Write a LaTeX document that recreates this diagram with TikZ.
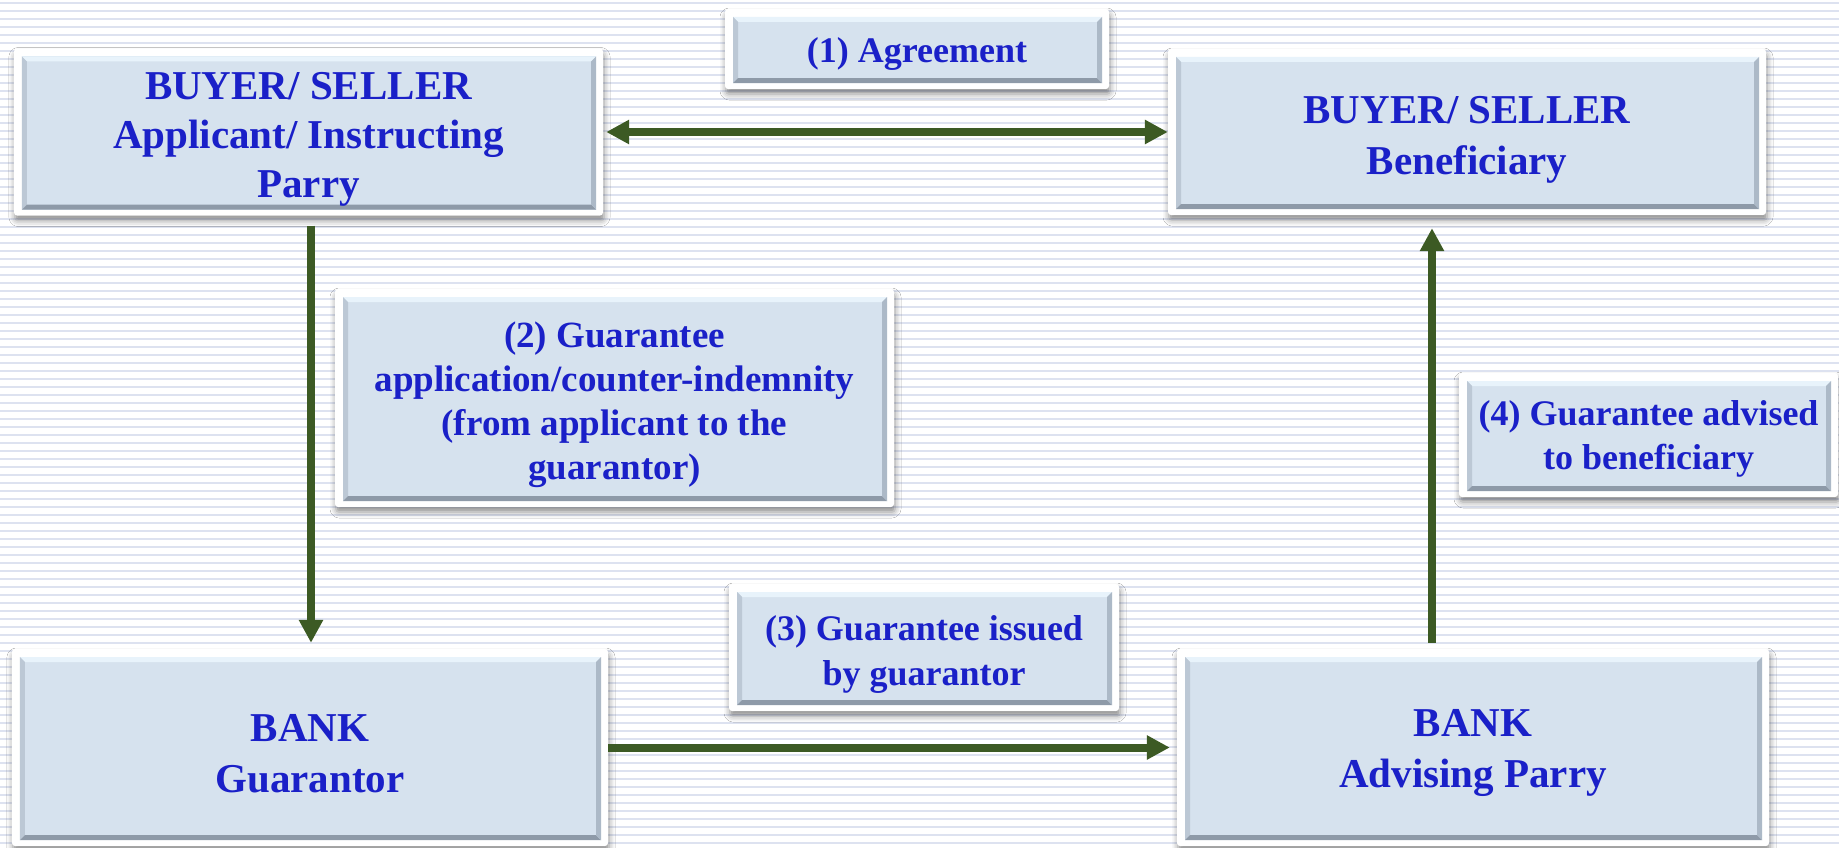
\documentclass[tikz,border=0pt]{standalone}
\usepackage{fontspec}
\setmainfont{Liberation Serif}
\usetikzlibrary{arrows.meta,calc,shadows.blur}

\definecolor{txtblue}{RGB}{26,32,200}
\definecolor{arrowgreen}{RGB}{60,90,36}
\definecolor{panelfill}{RGB}{214,226,238}
\definecolor{bevtop}{RGB}{232,243,251}
\definecolor{bevleft}{RGB}{188,200,213}
\definecolor{bevbottom}{RGB}{142,154,168}
\definecolor{bevright}{RGB}{172,185,199}
\definecolor{stripe}{RGB}{221,226,240}

% invisible strut that gives a first line extra height, setting the text lower
\newcommand\pnlstrut[1]{\rule{0pt}{#1}}

\tikzset{
  bevelpanel/.style={
    fill=white, rounded corners=3bp, inner sep=0pt, align=center, text=txtblue,
    blur shadow={shadow xshift=1bp, shadow yshift=-5bp,
                 shadow blur radius=6bp, shadow opacity=45},
    path picture={
      \begin{scope}[sharp corners]
        \coordinate (pa) at ([shift={(8bp,6bp)}]path picture bounding box.south west);
        \coordinate (pb) at ([shift={(-7bp,-8bp)}]path picture bounding box.north east);
        \fill[panelfill] (pa) rectangle (pb);
        % bevelled rims
        \fill[bevtop] (pa|-pb) -- (pb) -- ($(pb)+(-5bp,-5bp)$) -- ($(pa|-pb)+(5bp,-5bp)$) -- cycle;
        \fill[bevleft] (pa) -- (pa|-pb) -- ($(pa|-pb)+(5bp,-5bp)$) -- ($(pa)+(5bp,5bp)$) -- cycle;
        \fill[bevbottom] (pa) -- (pb|-pa) -- ($(pb|-pa)+(-5bp,5bp)$) -- ($(pa)+(5bp,5bp)$) -- cycle;
        \fill[bevright] (pb|-pa) -- (pb) -- ($(pb)+(-5bp,-5bp)$) -- ($(pb|-pa)+(-5bp,5bp)$) -- cycle;
      \end{scope}
    }
  },
  bigpanel/.style={bevelpanel, font=\fontsize{41bp}{#1}\selectfont\bfseries},
  bigpanel/.default=51bp,
  labelpanel/.style={bevelpanel, font=\fontsize{36bp}{#1}\selectfont\bfseries},
  labelpanel/.default=44bp,
  flow/.style={draw=arrowgreen, line width=8bp,
    -{Triangle[length=23bp,width=23bp]}},
  flowboth/.style={draw=arrowgreen, line width=8bp,
    {Triangle[length=23bp,width=23bp]}-{Triangle[length=23bp,width=23bp]}}
}

\begin{document}
\begin{tikzpicture}[x=1bp,y=-1bp]
  \useasboundingbox (0,0) rectangle (1839,848);
  % striped backdrop
  \begin{scope}
    \clip (0,0) rectangle (1839,848);
    \fill[white] (0,0) rectangle (1839,848);
    \foreach \k in {0,...,106}
      \draw[stripe, line width=2bp] (0,{3.3+8*\k}) -- (1839,{3.3+8*\k});
  \end{scope}

  % parties
  \node[bigpanel=49bp, minimum width=589bp, minimum height=167bp] (A) at (308.5,132)
    {\pnlstrut{42bp}BUYER/ SELLER\\Applicant/ Instructing\\Parry};
  \node[bigpanel, minimum width=598bp, minimum height=166bp] (B) at (1467,132)
    {\pnlstrut{42bp}BUYER/ SELLER\\Beneficiary};
  \node[bigpanel, minimum width=596bp, minimum height=197bp] (C) at (310,747.5)
    {\pnlstrut{39bp}BANK\\Guarantor};
  \node[bigpanel, minimum width=592bp, minimum height=197bp] (D) at (1473,747.5)
    {\pnlstrut{39bp}BANK\\Advising Parry};

  % step labels
  \node[labelpanel, minimum width=384bp, minimum height=80bp] (agr) at (917,49)
    {\pnlstrut{34bp}(1) Agreement};
  \node[bevelpanel, font=\fontsize{37bp}{44bp}\selectfont\bfseries,
        minimum width=559bp, minimum height=218bp] (lab2) at (614.5,398)
    {\pnlstrut{39bp}(2) Guarantee\\application/counter-indemnity\\(from applicant to the\\guarantor)};
  \node[labelpanel=45bp, minimum width=390bp, minimum height=127bp] (lab3) at (924,647.5)
    {\pnlstrut{38bp}(3) Guarantee issued\\by guarantor};
  \node[labelpanel, minimum width=379bp, minimum height=124bp] (lab4) at (1648.5,435)
    {\pnlstrut{33bp}(4) Guarantee advised\\to beneficiary};

  % connectors
  \coordinate (downx) at (311,0);
  \coordinate (upx) at (1432,0);
  \draw[flowboth, shorten <=3bp] (A.east) -- (B.west);
  \draw[flow, shorten <=10bp, shorten >=6bp] (A.south -| downx) -- (C.north -| downx);
  \draw[flow, shorten >=7bp] (C.east) -- (D.west);
  \draw[flow, shorten <=6bp, shorten >=13bp] (D.north -| upx) -- (B.south -| upx);
\end{tikzpicture}
\end{document}
